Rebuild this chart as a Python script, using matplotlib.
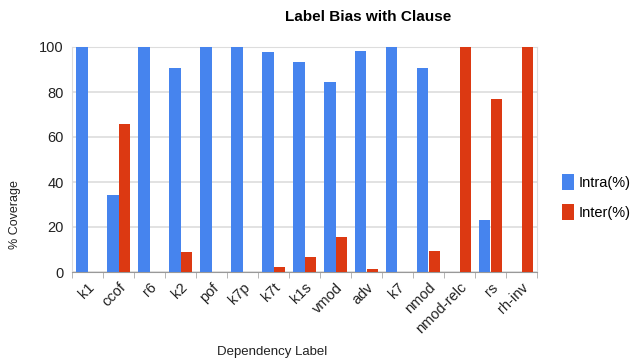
import numpy as np
import matplotlib.pyplot as plt

labels = ['k1', 'ccof', 'r6', 'k2', 'pof', 'k7p', 'k7t', 'k1s', 'vmod',
          'adv', 'k7', 'nmod', 'nmod-relc', 'rs', 'rh-inv']
intra = [100, 34.2, 100, 90.8, 100, 100, 97.8, 93.2, 84.3, 98.4, 100, 90.5, 0, 23.1, 0]
inter = [0, 65.6, 0, 9.0, 0, 0, 2.1, 6.8, 15.7, 1.5, 0, 9.3, 100, 76.7, 100]
yticks = [0, 20, 40, 60, 80, 100]

plt.rcParams['font.family'] = ['Liberation Sans', 'DejaVu Sans']

fig = plt.figure(figsize=(6.41, 3.62), dpi=100)
ax = fig.add_axes([72 / 641, 90 / 362, 465 / 641, 225 / 362])

x = np.arange(len(labels))
w = 0.385
ax.bar(x - w / 2, intra, w, color='#4684ee', label='Intra(%)', zorder=3)
ax.bar(x + w / 2, inter, w, color='#dc3912', label='Inter(%)', zorder=3)

ax.set_xlim(-0.5, len(labels) - 0.5)
ax.set_ylim(0, 100)
ax.set_yticks(yticks)
ax.set_yticklabels([str(v) for v in yticks], fontsize=10.5, color='#222222')
ax.grid(axis='y', color='#dddddd', linewidth=1.2, zorder=0)
ax.tick_params(axis='y', length=0, pad=6)

# category labels, boundary ticks below axis
ax.set_xticks(x)
ax.set_xticklabels(labels, rotation=45, ha='right', rotation_mode='anchor',
                   fontsize=10.5, color='#222222')
ax.tick_params(axis='x', length=0, pad=6)
ax.set_xticks(np.arange(len(labels) + 1) - 0.5, minor=True)
ax.tick_params(axis='x', which='minor', length=4, color='#aaaaaa', direction='out')

for s in ['top', 'right', 'left']:
    ax.spines[s].set_color('#dddddd')
ax.spines['bottom'].set_color('#999999')

fig.text(368 / 641, 1 - 17 / 362, 'Label Bias with Clause', ha='center', va='center',
         fontsize=11, fontweight='bold', color='#000000')
fig.text(15 / 641, 1 - 215 / 362, '% Coverage', rotation=90, ha='center', va='center',
         fontsize=9, color='#222222')
fig.text(272 / 641, 1 - 352 / 362, 'Dependency Label', ha='center', va='center',
         fontsize=9.5, color='#222222')

fig.legend(loc='center left', bbox_to_anchor=(549 / 641, 1 - 197 / 362), frameon=False,
           fontsize=10.5, handlelength=0.8, handleheight=1.3, handletextpad=0.3,
           labelspacing=0.95)

fig.savefig('out.png', dpi=100)
